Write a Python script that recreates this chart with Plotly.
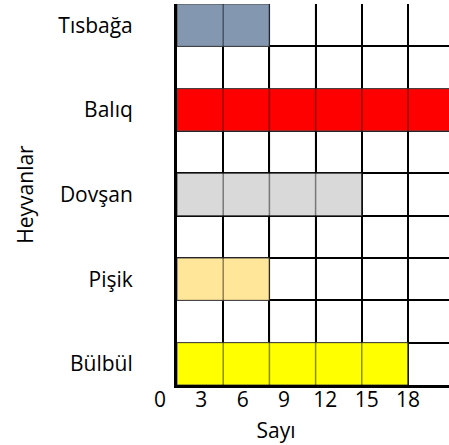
import plotly.graph_objects as go

# Animal counts, one bar per animal (each grid cell stands for 3)
animals = ["Tısbağa", "Balıq", "Dovşan", "Pişik", "Bülbül"]
counts = [6, 21, 12, 6, 15]
colors = ["#8497B0", "#FF0000", "#D9D9D9", "#FFE699", "#FFFF00"]

# Labels shown under the grid
x_ticks = [0, 3, 6, 9, 12, 15, 18]
cell_size = 3

W, H = 449, 445
FONT = "Open Sans"
FS = 21

# Grid geometry (pixels)
grid_left, grid_right = 177, 449
cell_px = 46.2
px_per_unit = cell_px / cell_size
n_rows = 2 * len(animals) - 1

# Row centres: animals on every other row, counted from the top
row_pos = [n_rows - (2 * i + 0.5) for i in range(len(animals))]

fig = go.Figure()
fig.add_trace(go.Bar(
    x=counts, y=row_pos, base=0, orientation="h", width=1,
    marker=dict(color=colors, line=dict(color="#4a4a4a", width=1)),
    showlegend=False, hoverinfo="skip",
))
# helper trace for the label axis
fig.add_trace(go.Scatter(x=[], y=[], xaxis="x2", yaxis="y2",
                         showlegend=False, hoverinfo="skip"))

# cell boundaries drawn faintly across the bars
x_max = (grid_right - grid_left) / px_per_unit
v = cell_size
while v < x_max:
    fig.add_shape(type="line", xref="x", yref="y", x0=v, x1=v, y0=0, y1=n_rows,
                  line=dict(color="rgba(0,0,0,0.45)", width=1.5), layer="above")
    v += cell_size

# label axis placement
lab0_px, lab18_px = 160, 408
lab_px_per = (lab18_px - lab0_px) / (x_ticks[-1] - x_ticks[0])
lab_left_px = 103
lab_range = [(lab_left_px - lab0_px) / lab_px_per, (W - lab0_px) / lab_px_per]

fig.update_layout(
    width=W, height=H,
    margin=dict(l=0, r=0, t=4, b=60, autoexpand=False),
    paper_bgcolor="white", plot_bgcolor="rgba(0,0,0,0)",
    font=dict(family=FONT, size=FS, color="black"),
    xaxis=dict(
        domain=[grid_left / W, 1], range=[0, x_max],
        tickmode="linear", tick0=0, dtick=cell_size,
        showticklabels=False, ticks="",
        showgrid=True, gridcolor="black", gridwidth=2,
        zeroline=False, showline=True, linecolor="black", linewidth=3,
    ),
    yaxis=dict(
        domain=[0, 1], range=[0, n_rows],
        tickmode="array", tickvals=row_pos, ticktext=animals,
        ticks="outside", ticklen=37, tickcolor="rgba(0,0,0,0)",
        showgrid=False, zeroline=False,
        minor=dict(tick0=0, dtick=1, showgrid=True, gridcolor="black",
                   gridwidth=2, ticks=""),
        showline=True, linecolor="black", linewidth=3,
        title=dict(text="Heyvanlar", standoff=19, font=dict(size=FS)),
        automargin=False,
    ),
    xaxis2=dict(
        domain=[lab_left_px / W, 1], range=lab_range, anchor="y2",
        tickmode="array", tickvals=x_ticks,
        showgrid=False, zeroline=False, showline=False, ticks="",
        title=dict(text="Sayı", standoff=11, font=dict(size=FS)),
        automargin=False,
    ),
    yaxis2=dict(domain=[0, 1], range=[0, 1], anchor="x2", visible=False),
)

fig.write_html("out.html")
